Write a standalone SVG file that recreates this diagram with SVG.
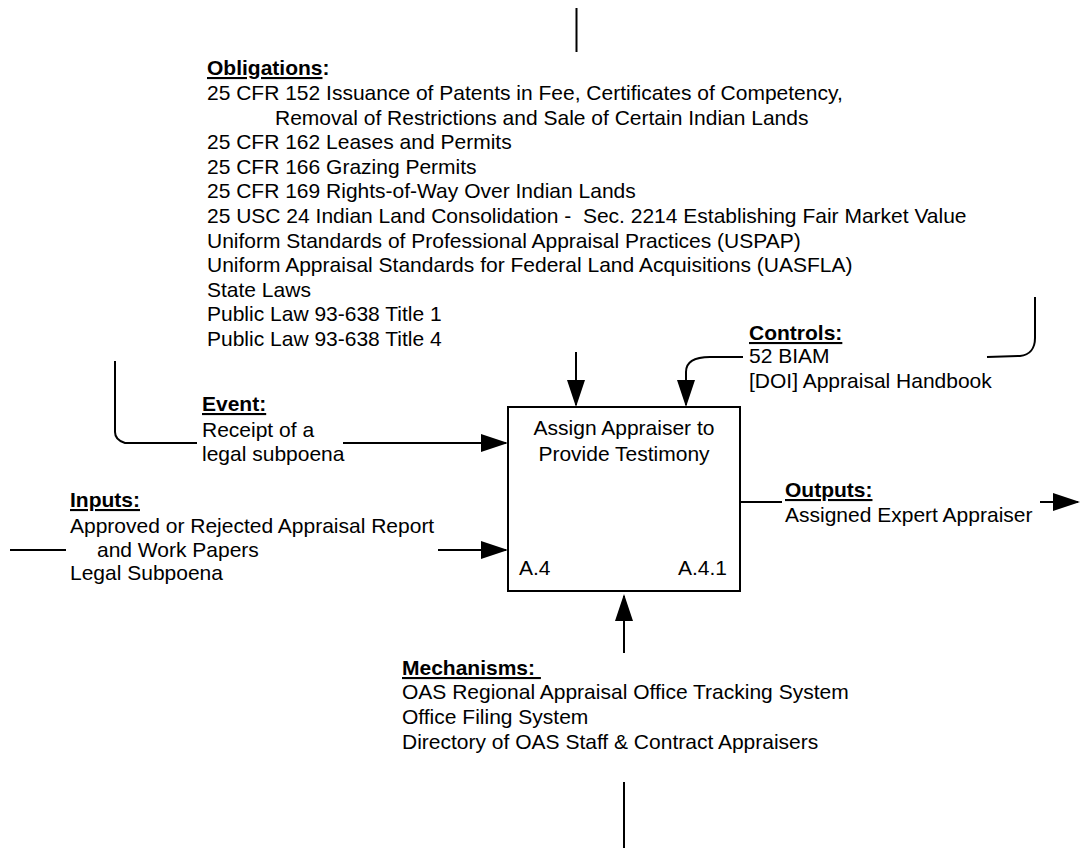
<svg xmlns="http://www.w3.org/2000/svg" width="1080" height="848" viewBox="0 0 1080 848">
  <style>
    text { font-family: "Liberation Sans", Arial, sans-serif; font-size: 21px; fill: #000; }
    .hd { font-weight: bold; text-decoration: underline; }
    .ln { fill: none; stroke: #000; stroke-width: 2; }
    .box { fill: #fff; stroke: #000; stroke-width: 2; }
  </style>
  <defs>
    <marker id="arrow" markerUnits="userSpaceOnUse" markerWidth="28" markerHeight="20" refX="25" refY="9" orient="auto">
      <path d="M0,0 L27,9 L0,18 Z" fill="#000"/>
    </marker>
  </defs>

  <!-- connectors -->
  <g id="connectors">
    <path class="ln" d="M576.5,8 V52"/>
    <path class="ln" d="M576,352 V405" marker-end="url(#arrow)"/>
    <path class="ln" d="M743,357 H710 C695,357 686,362 686,372 V405" marker-end="url(#arrow)"/>
    <path class="ln" d="M1035,297 V338 C1035,348 1030,355 1020,356 L987,357"/>
    <path class="ln" d="M115,361 V432 Q115,440 125,443 H197"/>
    <path class="ln" d="M343,443 H506" marker-end="url(#arrow)"/>
    <path class="ln" d="M10,550 H66"/>
    <path class="ln" d="M438,550 H506" marker-end="url(#arrow)"/>
    <path class="ln" d="M740,502 H782"/>
    <path class="ln" d="M1040,502 H1078" marker-end="url(#arrow)"/>
    <path class="ln" d="M624,653 V596" marker-end="url(#arrow)"/>
    <path class="ln" d="M624,782 V848"/>
  </g>

  <!-- activity box -->
  <g id="activity">
    <rect class="box" x="508" y="407" width="232" height="184"/>
    <text x="624" y="435" text-anchor="middle">Assign Appraiser to</text>
    <text x="624" y="461" text-anchor="middle">Provide Testimony</text>
    <text x="519" y="575">A.4</text>
    <text x="727" y="575" text-anchor="end">A.4.1</text>
  </g>

  <!-- obligations -->
  <g id="obligations">
    <text x="207" y="75"><tspan class="hd">Obligations</tspan><tspan font-weight="bold">:</tspan></text>
    <text x="207" y="100">25 CFR 152 Issuance of Patents in Fee, Certificates of Competency,</text>
    <text x="275" y="124.5">Removal of Restrictions and Sale of Certain Indian Lands</text>
    <text x="207" y="149">25 CFR 162 Leases and Permits</text>
    <text x="207" y="174">25 CFR 166 Grazing Permits</text>
    <text x="207" y="198">25 CFR 169 Rights-of-Way Over Indian Lands</text>
    <text x="207" y="223" xml:space="preserve">25 USC 24 Indian Land Consolidation -  Sec. 2214 Establishing Fair Market Value</text>
    <text x="207" y="247.5">Uniform Standards of Professional Appraisal Practices (USPAP)</text>
    <text x="207" y="272">Uniform Appraisal Standards for Federal Land Acquisitions (UASFLA)</text>
    <text x="207" y="296.5">State Laws</text>
    <text x="207" y="321">Public Law 93-638 Title 1</text>
    <text x="207" y="346">Public Law 93-638 Title 4</text>
  </g>

  <!-- controls -->
  <g id="controls">
    <text class="hd" x="749" y="340">Controls:</text>
    <text x="749" y="363">52 BIAM</text>
    <text x="749" y="388">[DOI] Appraisal Handbook</text>
  </g>

  <!-- event -->
  <g id="event">
    <text class="hd" x="202" y="411">Event:</text>
    <text x="202" y="436.5">Receipt of a</text>
    <text x="202" y="461">legal subpoena</text>
  </g>

  <!-- inputs -->
  <g id="inputs">
    <text class="hd" x="70" y="507">Inputs:</text>
    <text x="70" y="532.5">Approved or Rejected Appraisal Report</text>
    <text x="97" y="556.5">and Work Papers</text>
    <text x="70" y="580">Legal Subpoena</text>
  </g>

  <!-- outputs -->
  <g id="outputs">
    <text class="hd" x="785" y="497">Outputs:</text>
    <text x="785" y="521.5">Assigned Expert Appraiser</text>
  </g>

  <!-- mechanisms -->
  <g id="mechanisms">
    <text class="hd" x="402" y="675" xml:space="preserve">Mechanisms: </text>
    <text x="402" y="699">OAS Regional Appraisal Office Tracking System</text>
    <text x="402" y="724">Office Filing System</text>
    <text x="402" y="749">Directory of OAS Staff &amp; Contract Appraisers</text>
  </g>
</svg>
